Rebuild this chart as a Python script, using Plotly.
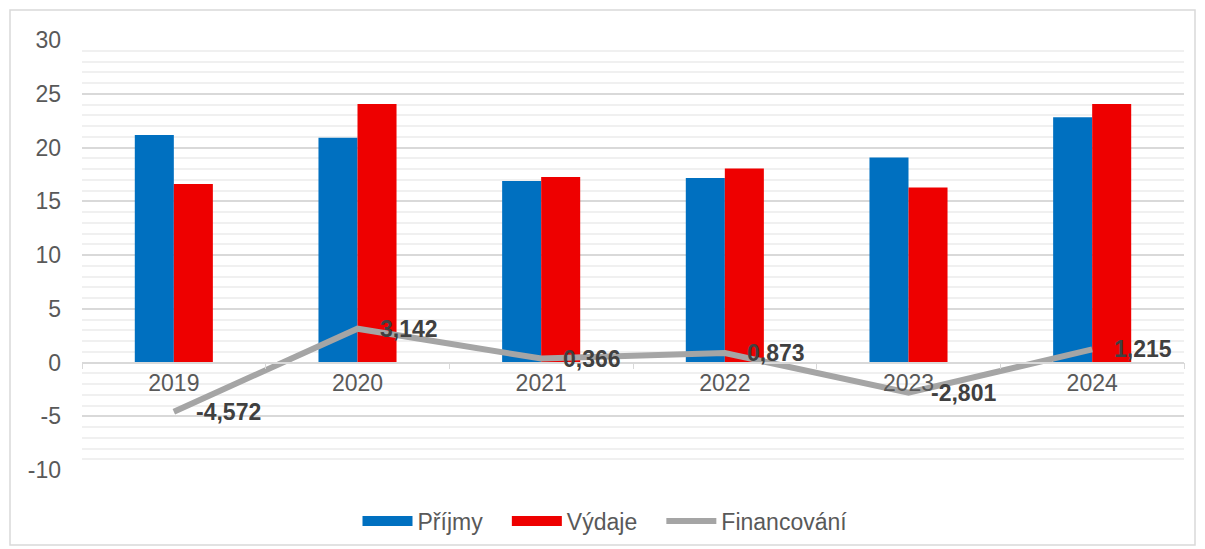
import plotly.graph_objects as go

years = ["2019", "2020", "2021", "2022", "2023", "2024"]
prijmy = [21.17, 20.90, 16.88, 17.17, 19.08, 22.82]
vydaje = [16.60, 24.04, 17.25, 18.04, 16.28, 24.04]
financovani = [-4.572, 3.142, 0.366, 0.873, -2.801, 1.215]
series_names = ["Příjmy", "Výdaje", "Financování"]
y_ticks = [-10, -5, 0, 5, 10, 15, 20, 25, 30]
y_ticktext = ["-10", "-5", "0", "5", "10", "15", "20", "25", "30"]

FONT = "Liberation Sans, Arial, sans-serif"
TXT = "#595959"
BLUE, RED, GREY = "#0070C0", "#EE0000", "#A5A5A5"

fig = go.Figure()
fig.add_trace(go.Bar(name=series_names[0], x=years, y=prijmy, showlegend=False,
                     marker=dict(color=BLUE, line=dict(width=0))))
fig.add_trace(go.Bar(name=series_names[1], x=years, y=vydaje, showlegend=False,
                     marker=dict(color=RED, line=dict(width=0))))
fig.add_trace(go.Scatter(name=series_names[2], x=years, y=financovani, mode="lines",
                         line=dict(color=GREY, width=6), showlegend=False))

# legend entries (no visible data); trailing no-break spaces widen the item gaps
pad = "\u00a0\u00a0\u00a0"
for nm, col, w, p in [(series_names[0], BLUE, 12, pad), (series_names[1], RED, 12, pad),
                      (series_names[2], GREY, 6, "")]:
    fig.add_trace(go.Scatter(name=nm + p, x=[years[0]], y=[None], mode="lines",
                             line=dict(color=col, width=w), hoverinfo="skip"))

annotations = []
for i, v in enumerate(financovani):
    annotations.append(dict(x=i, y=v, xref="x", yref="y", text=f"{v:.3f}".replace(".", ","),
                            showarrow=False, xanchor="left", yanchor="middle", xshift=20,
                            font=dict(family=FONT, size=23, color="#404040", weight="bold")))

# page body has an 8px margin: figure coords = screen coords - 8
W, H = 1197, 541
ml, mr, mt, mb = 74, 21, 32, 79
pw, ph = W - ml - mr, H - mt - mb
bot = H - mb  # y pixel of plot bottom in fig coords

fig.update_layout(
    width=W, height=H,
    margin=dict(l=ml, r=mr, t=mt, b=mb, autoexpand=False),
    paper_bgcolor="white", plot_bgcolor="white",
    barmode="group", bargap=0.575, bargroupgap=0,
    font=dict(family=FONT, size=23, color=TXT),
    showlegend=True,
    legend=dict(orientation="h", x=(597 - ml) / pw, xanchor="center",
                y=(bot - 513) / ph, yanchor="middle",
                font=dict(size=23, color=TXT), itemwidth=50,
                traceorder="normal"),
    xaxis=dict(type="category", categoryorder="array", categoryarray=years,
               range=[-0.5, len(years) - 0.5], autorange=False,
               anchor="free", position=0.25, showline=True,
               linecolor="#D9D9D9", linewidth=1.5, ticks="outside",
               tickson="boundaries", ticklen=6, tickcolor="#D9D9D9",
               showgrid=False, automargin=False,
               tickfont=dict(size=23, color=TXT)),
    yaxis=dict(range=[-10, 30], tickvals=y_ticks, ticktext=y_ticktext,
               showgrid=True, gridcolor="#D9D9D9",
               gridwidth=1.5, zeroline=False, showline=False, ticklabelstandoff=20,
               automargin=False, tickfont=dict(size=23, color=TXT),
               minor=dict(dtick=1, showgrid=True, gridcolor="#F0F0F0", gridwidth=1.5)),
    annotations=annotations,
    shapes=[dict(type="rect", xref="paper", yref="paper",
                 x0=(2 - ml) / pw, x1=(1187 - ml) / pw,
                 y0=(bot - 537) / ph, y1=(bot - 2) / ph,
                 line=dict(color="#D9D9D9", width=1.5), fillcolor="rgba(0,0,0,0)",
                 layer="below")],
)

fig.write_html("out.html")
